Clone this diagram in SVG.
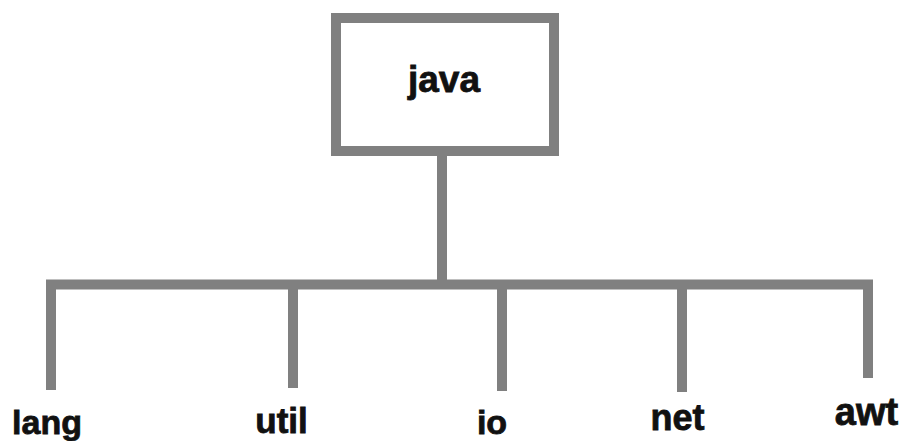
<svg xmlns="http://www.w3.org/2000/svg" width="903" height="441" viewBox="0 0 903 441">
<style>
.box{fill:#fff;stroke:#808080;stroke-width:10}
.ln{fill:none;stroke:#808080;stroke-width:10;stroke-linecap:butt}
.lbl{font-family:"Liberation Sans",Arial,sans-serif;font-weight:bold;fill:#111;stroke:#111;stroke-width:0.8;text-anchor:middle}
</style>
<rect width="903" height="441" fill="#fff"/>
<g id="connectors">
<path class="ln" d="M442 155 V284.5"/>
<path class="ln" d="M51 390 V284.5 H868 V378"/>
<path class="ln" d="M293 284.5 V388"/>
<path class="ln" d="M502 284.5 V391"/>
<path class="ln" d="M682 284.5 V392"/>
</g>
<g id="java">
<rect class="box" x="336" y="18" width="218" height="133"/>
<text class="lbl" x="444" y="92" font-size="37">java</text>
</g>
<g id="lang"><text class="lbl" x="47" y="434" font-size="34">lang</text></g>
<g id="util"><text class="lbl" x="281.5" y="433" font-size="35">util</text></g>
<g id="io"><text class="lbl" x="492" y="434" font-size="34">io</text></g>
<g id="net"><text class="lbl" x="677.5" y="430" font-size="36">net</text></g>
<g id="awt"><text class="lbl" x="866.5" y="425" font-size="38">awt</text></g>
</svg>
